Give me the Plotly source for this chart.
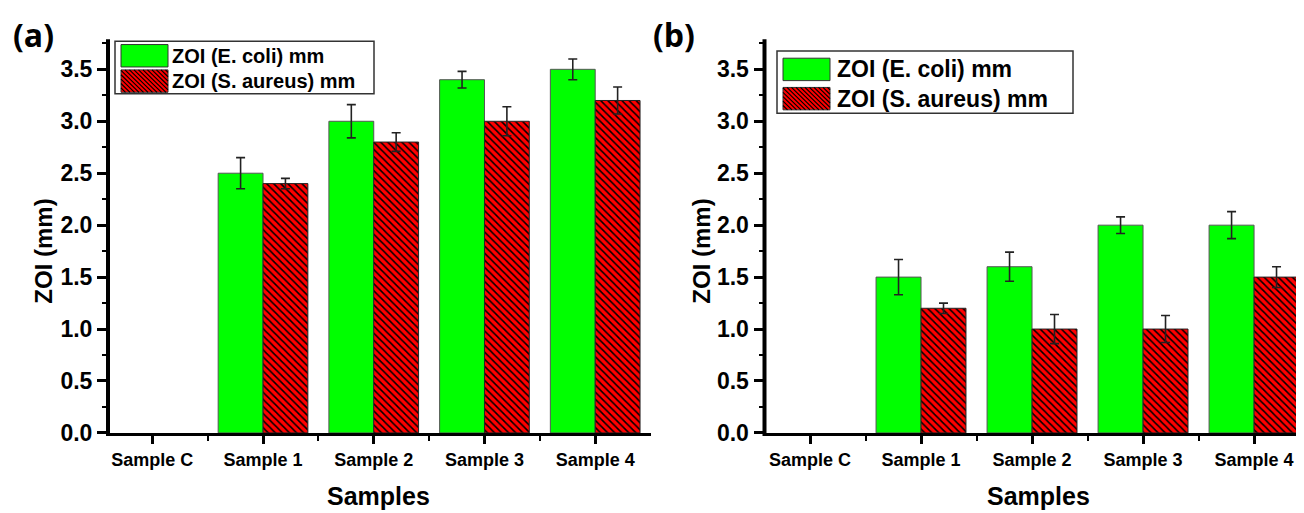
import plotly.graph_objects as go

categories = ["Sample C", "Sample 1", "Sample 2", "Sample 3", "Sample 4"]

# Panel (a)
a_ecoli = [0, 2.5, 3.0, 3.4, 3.5]
a_ecoli_err = [0, 0.15, 0.16, 0.08, 0.10]
a_saureus = [0, 2.4, 2.8, 3.0, 3.2]
a_saureus_err = [0, 0.05, 0.09, 0.14, 0.13]

# Panel (b)
b_ecoli = [0, 1.5, 1.6, 2.0, 2.0]
b_ecoli_err = [0, 0.17, 0.14, 0.08, 0.13]
b_saureus = [0, 1.2, 1.0, 1.0, 1.5]
b_saureus_err = [0, 0.05, 0.14, 0.13, 0.10]

legend_labels = ["ZOI (E. coli) mm", "ZOI (S. aureus) mm"]
y_ticks = [0.0, 0.5, 1.0, 1.5, 2.0, 2.5, 3.0, 3.5]

W, H = 1304, 513
FONT = "Liberation Sans, Arial, sans-serif"
GREEN = "#00FF00"
RED = "#FF0000"

def px(x):
    return x / W

def py(y):
    return 1 - y / H

xpos = list(range(len(categories)))

fig = go.Figure()

def nonzero(vals, errs):
    # zero-height bars (Sample C) draw nothing in the reference
    idx = [i for i, v in enumerate(vals) if v != 0]
    return [xpos[i] for i in idx], [vals[i] for i in idx], [errs[i] for i in idx]

def add_panel(ecoli, ecoli_err, sa, sa_err, xa, ya):
    xs, ys, es = nonzero(ecoli, ecoli_err)
    fig.add_trace(go.Bar(
        x=xs, y=ys, name=legend_labels[0], xaxis=xa, yaxis=ya,
        offsetgroup="e", showlegend=False,
        marker=dict(color=GREEN, line=dict(color="#555555", width=1)),
        error_y=dict(type="data", array=es, color="#222222",
                     thickness=1.6, width=4.5),
    ))
    xs, ys, es = nonzero(sa, sa_err)
    fig.add_trace(go.Bar(
        x=xs, y=ys, name=legend_labels[1], xaxis=xa, yaxis=ya,
        offsetgroup="s", showlegend=False,
        marker=dict(color=RED, line=dict(color="#222222", width=1),
                    pattern=dict(shape="\\", fgcolor="black", bgcolor=RED,
                                 size=5, solidity=0.3, fillmode="replace")),
        error_y=dict(type="data", array=es, color="#222222",
                     thickness=1.6, width=4.5),
    ))

add_panel(a_ecoli, a_ecoli_err, a_saureus, a_saureus_err, "x", "y")
add_panel(b_ecoli, b_ecoli_err, b_saureus, b_saureus_err, "x2", "y2")

y_top, y_bot = 32, 436

xaxis_common = dict(
    tickmode="array", tickvals=xpos, ticktext=categories,
    showline=True, linecolor="black", linewidth=3, mirror=False, ticks="outside",
    ticklen=8, tickwidth=2.5, tickcolor="black", showgrid=False, zeroline=False,
    tickfont=dict(family=FONT, size=18, color="black", weight="bold"),
    minor=dict(tickmode="array", tickvals=[0.5, 1.5, 2.5, 3.5], ticks="outside",
               ticklen=5, tickwidth=2, tickcolor="black"),
    layer="above traces",
    fixedrange=True,
)
yaxis_common = dict(
    range=[0, 3.79], tickmode="array", tickvals=y_ticks,
    ticktext=[f"{v:.1f}" for v in y_ticks],
    showline=False, ticks="outside",
    ticklen=10, tickwidth=2.5, tickcolor="black", showgrid=False, zeroline=False,
    tickfont=dict(family=FONT, size=23, color="black", weight="bold"),
    minor=dict(dtick=0.25, tick0=0.25, ticks="outside", ticklen=5, tickwidth=2,
               tickcolor="black"),
    layer="above traces",
    fixedrange=True,
)

X_A0, X_B0 = 100, 756.5

fig.update_layout(
    width=W, height=H,
    margin=dict(l=0, r=0, t=0, b=0),
    paper_bgcolor="white", plot_bgcolor="white",
    barmode="group", bargap=0.19, bargroupgap=0,
    showlegend=False,
    xaxis=dict(xaxis_common, range=[-0.4, 4.504], domain=[px(X_A0), px(643)], anchor="y"),
    yaxis=dict(yaxis_common, domain=[py(y_bot), py(y_top)], anchor="x"),
    xaxis2=dict(xaxis_common, range=[-0.41, 4.495], domain=[px(X_B0), px(1301)], anchor="y2"),
    yaxis2=dict(yaxis_common, domain=[py(y_bot), py(y_top)], anchor="x2"),
)

shapes = []
# Left axis spines (thick black, like the reference); paper-referenced so not clipped
for x0 in (X_A0, X_B0):
    shapes.append(dict(type="line", xref="paper", yref="paper",
                       x0=px(x0), x1=px(x0), y0=py(y_bot + 3), y1=py(y_top),
                       line=dict(color="black", width=4), layer="above"))

# Axis titles (as annotations for exact placement)
for cx, ycx in [(370, 36), (1030, 694)]:
    fig.add_annotation(text="<b>Samples</b>", xref="paper", yref="paper",
                       x=px(cx), y=py(501), xanchor="center", yanchor="middle",
                       showarrow=False,
                       font=dict(family=FONT, size=25, color="black"))
    fig.add_annotation(text="<b>ZOI (mm)</b>", xref="paper", yref="paper",
                       x=px(ycx), y=py(250), xanchor="center", yanchor="middle",
                       textangle=-90, showarrow=False,
                       font=dict(family=FONT, size=24, color="black"))

# Panel labels
for txt, x in [("(a)", 3), ("(b)", 643)]:
    fig.add_annotation(text=f"<b>{txt}</b>", xref="paper", yref="paper",
                       x=px(x), y=py(3), xanchor="left", yanchor="top",
                       showarrow=False,
                       font=dict(family="Open Sans, sans-serif", size=32, color="black"))

# Custom legends (large swatches like the reference)
def hatch_path(x0, y0, x1, y1, step=4.5):
    parts = []
    c = x0 - (y1 - y0)
    while c < x1:
        xa, ya_ = c, y0
        xb, yb = c + (y1 - y0), y1
        if xa < x0:
            ya_ = y0 + (x0 - xa)
            xa = x0
        if xb > x1:
            yb = y1 - (xb - x1)
            xb = x1
        if xb > xa:
            parts.append(f"M{px(xa)},{py(ya_)} L{px(xb)},{py(yb)}")
        c += step
    return " ".join(parts)

def add_legend(box, rows, sw_x, sw_w, sw_h, text_x, fsize):
    bx0, by0, bx1, by1 = box
    shapes.append(dict(type="rect", xref="paper", yref="paper",
                       x0=px(bx0), x1=px(bx1), y0=py(by1), y1=py(by0),
                       line=dict(color="#333333", width=1.5), fillcolor="white"))
    for i, yc in enumerate(rows):
        sy0, sy1 = yc - sw_h / 2, yc + sw_h / 2
        color = GREEN if i == 0 else RED
        shapes.append(dict(type="rect", xref="paper", yref="paper",
                           x0=px(sw_x), x1=px(sw_x + sw_w), y0=py(sy1), y1=py(sy0),
                           line=dict(color="#333333", width=1), fillcolor=color))
        if i == 1:
            shapes.append(dict(type="path", xref="paper", yref="paper",
                               path=hatch_path(sw_x, sy0, sw_x + sw_w, sy1),
                               line=dict(color="black", width=1.2)))
        fig.add_annotation(text=f"<b>{legend_labels[i]}</b>", xref="paper", yref="paper",
                           x=px(text_x), y=py(yc), xanchor="left", yanchor="middle",
                           showarrow=False,
                           font=dict(family=FONT, size=fsize, color="black"))

add_legend((107, 34, 366, 88), [49, 75], 113, 47, 23, 162, 20)
add_legend((769, 44, 1065, 108), [63, 93], 775, 47, 23, 827, 23)

fig.update_layout(shapes=shapes)

fig.write_html("out.html")
